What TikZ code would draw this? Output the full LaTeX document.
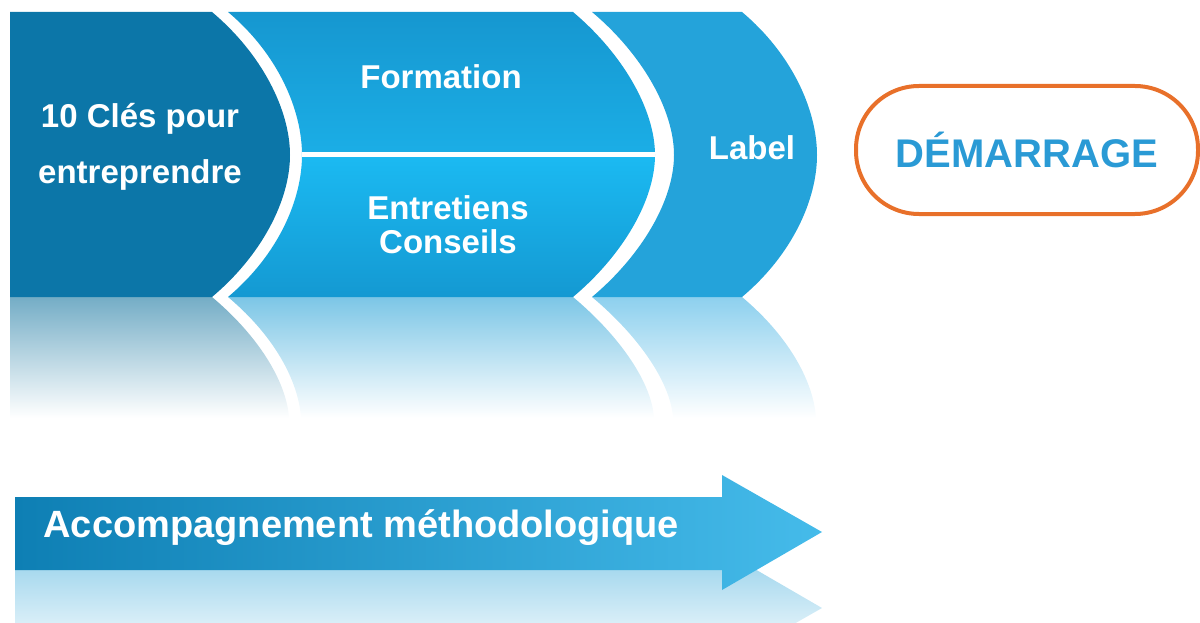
\documentclass[tikz,border=0pt]{standalone}
\usepackage{fontspec}
\setmainfont{Liberation Sans}
\usepackage{tikz}
\usetikzlibrary{calc}

\definecolor{cledark}{HTML}{0C76A8}
\definecolor{clemid}{HTML}{1A93C9}
\definecolor{formtop}{HTML}{1697D0}
\definecolor{formbot}{HTML}{1BAEE6}
\definecolor{entrtop}{HTML}{1BBAF2}
\definecolor{entrbot}{HTML}{1499D2}
\definecolor{labedge}{HTML}{24A3DA}
\definecolor{labmid}{HTML}{45BAE8}
\definecolor{reflA}{HTML}{74ADC6}
\definecolor{reflB}{HTML}{7CC6E6}
\definecolor{reflC}{HTML}{8DD0EE}
\definecolor{arrowleft}{HTML}{0E7FB4}
\definecolor{arrowright}{HTML}{45BBEA}
\definecolor{pillorange}{HTML}{E8702A}
\definecolor{pillblue}{HTML}{2A9AD5}

\begin{document}
\begin{tikzpicture}[x=1pt,y=-1pt,
		every node/.style={font=\bfseries, text=white, align=center},
		bigtext/.style={font=\fontsize{33}{40}\selectfont\bfseries},
		reflect/.style={top color=#1, middle color=#1!55!white, bottom color=white}]
	\useasboundingbox (0,0) rectangle (1200,623);

	% reflections of the three panels
	\shade[reflect=reflA] (10,297) -- (212,297) .. controls (262,339) and (287,385) .. (289,418)
		-- (10,418) -- cycle;
	\shade[reflect=reflB] (228,297) -- (573,297) .. controls (623,339) and (652,385) .. (654,418)
		-- (301,418) .. controls (299,385) and (278,339) .. (228,297) -- cycle;
	\shade[reflect=reflC] (592,297) -- (742,297) .. controls (792,339) and (814,385) .. (816,418)
		-- (673,418) .. controls (671,385) and (642,339) .. (592,297) -- cycle;

	% panel 1
	\shade[top color=cledark, middle color=clemid, bottom color=cledark]
		(10,12) -- (212,12) .. controls (262,54) and (290,110) .. (290,155)
		.. controls (290,200) and (262,255) .. (212,297) -- (10,297) -- cycle;
	% panel 2, upper and lower halves
	\shade[top color=formtop, bottom color=formbot]
		(228,12) -- (573,12) .. controls (623,54) and (655,110) .. (655,155)
		-- (302,155) .. controls (302,110) and (278,54) .. (228,12) -- cycle;
	\shade[top color=entrtop, bottom color=entrbot]
		(302,155) -- (655,155) .. controls (655,200) and (623,255) .. (573,297)
		-- (228,297) .. controls (278,255) and (302,200) .. (302,155) -- cycle;
	\draw[white, line width=5] (302,155) -- (655,155);
	% panel 3
	\shade[top color=labedge, middle color=labmid, bottom color=labedge]
		(592,12) -- (742,12) .. controls (792,54) and (817,110) .. (817,155)
		.. controls (817,200) and (792,255) .. (742,297) -- (592,297)
		.. controls (642,255) and (674,200) .. (674,155) .. controls (674,110) and (642,54) .. (592,12) -- cycle;

	\node[bigtext] (cles) at (140,147) {10 Clés pour\\[16pt]entreprendre};
	\node[bigtext] (formation) at (441,77) {Formation};
	\node[bigtext] (entretiens) at (448,225) {Entretiens\\[-6pt]Conseils};
	\node[bigtext] (label) at (752,148) {Label};

	% start pill
	\node[draw=pillorange, line width=4, rounded corners=63, minimum width=342, minimum height=128,
		text=pillblue, font=\fontsize{40}{44}\selectfont\bfseries] (demarrage) at (1027,150) {DÉMARRAGE};

	% reflection of the arrow
	\begin{scope}
		\clip (0,570) rectangle (850,623);
		\shade[top color=reflB!80, bottom color=white]
			(15,570) -- (722,570) -- (722,550) -- (822,608) -- (722,665) -- (722,643) -- (15,643) -- cycle;
	\end{scope}

	% arrow
	\shade[left color=arrowleft, right color=arrowright]
		(15,497) -- (722,497) -- (722,475) -- (822,532) -- (722,590) -- (722,570) -- (15,570) -- cycle;
	\node[anchor=west, font=\fontsize{38}{42}\selectfont\bfseries] (accomp) at (40,528) {Accompagnement méthodologique};
\end{tikzpicture}
\end{document}
